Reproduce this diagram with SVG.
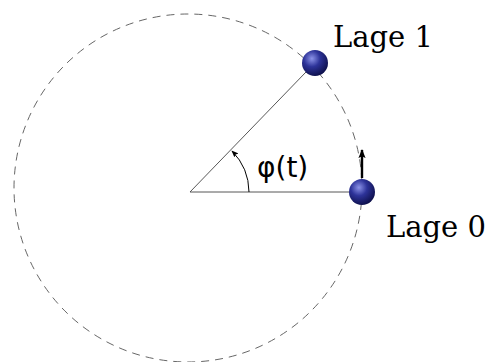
<svg xmlns="http://www.w3.org/2000/svg" width="490" height="362" viewBox="0 0 490 362">
<style>
.lbl{font-family:"DejaVu Serif","Liberation Serif",serif;font-size:29px;fill:#000}
.phi{font-family:"DejaVu Sans","Liberation Sans",sans-serif;font-size:28px;fill:#000}
.ln{stroke:#444;stroke-width:0.9;fill:none}
</style>
<defs>
<radialGradient id="ball" cx="0.38" cy="0.33" r="0.7">
<stop offset="0" stop-color="#8c93e8"/>
<stop offset="0.45" stop-color="#2d3399"/>
<stop offset="1" stop-color="#0d0f4a"/>
</radialGradient>
<marker id="ah" viewBox="0 0 10 10" refX="9" refY="5" markerWidth="7" markerHeight="7" orient="auto" markerUnits="userSpaceOnUse">
<path d="M0,1 L10,5 L0,9 L2,5 Z" fill="#000"/>
</marker>
<marker id="ah2" viewBox="0 0 10 10" refX="9" refY="5" markerWidth="9" markerHeight="9" orient="auto" markerUnits="userSpaceOnUse">
<path d="M0,1 L10,5 L0,9 L2,5 Z" fill="#000"/>
</marker>
</defs>
<g id="circle">
<circle cx="188" cy="188" r="174" fill="none" stroke="#555" stroke-width="0.9" stroke-dasharray="8,6"/>
</g>
<g id="connectors">
<line class="ln" x1="190" y1="192" x2="349" y2="192"/>
<line class="ln" x1="190" y1="192" x2="306" y2="72"/>
<path d="M249,192 A59,59 0 0 0 232,151" stroke="#000" stroke-width="1" fill="none" marker-end="url(#ah)"/>
<line x1="362" y1="178" x2="362" y2="150" stroke="#000" stroke-width="2.4" marker-end="url(#ah2)"/>
</g>
<g id="lage1">
<circle cx="315" cy="63" r="13" fill="url(#ball)"/>
<text class="lbl" x="333" y="47">Lage 1</text>
</g>
<g id="lage0">
<circle cx="362" cy="192" r="13" fill="url(#ball)"/>
<text class="lbl" x="386" y="237">Lage 0</text>
</g>
<g id="angle">
<text class="phi" x="257" y="177">φ(t)</text>
</g>
</svg>
